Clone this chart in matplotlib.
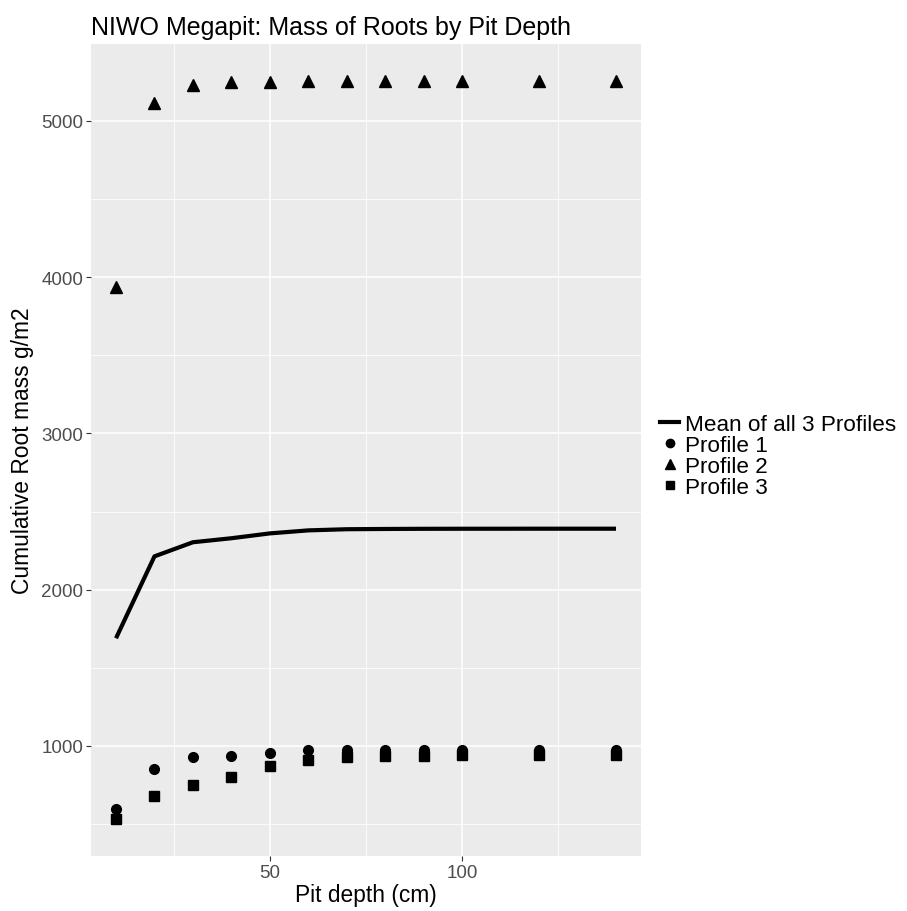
import numpy as np
import matplotlib
matplotlib.use("Agg")
import matplotlib.pyplot as plt
from matplotlib.lines import Line2D
from matplotlib.ticker import MultipleLocator

plt.rcParams["font.family"] = ["Liberation Sans", "DejaVu Sans"]

depth = [10, 20, 30, 40, 50, 60, 70, 80, 90, 100, 120, 140]
profile1 = [596, 851, 928, 938, 957, 972, 974, 975, 975, 975, 975, 975]
profile2 = [3940, 5112, 5230, 5248, 5252, 5254, 5255, 5255, 5256, 5256, 5256, 5256]
profile3 = [532, 677, 753, 802, 872, 913, 932, 936, 938, 939, 940, 940]
mean_all = np.mean([profile1, profile2, profile3], axis=0)

W, H = 907, 912
fig = plt.figure(figsize=(W / 100, H / 100), dpi=100)
ax = fig.add_axes([91 / W, (H - 857) / H, (641 - 91) / W, (857 - 45) / H])

ax.set_facecolor("#EBEBEB")
for s in ax.spines.values():
    s.set_visible(False)

ax.plot(depth, mean_all, color="black", lw=3, zorder=3, solid_capstyle="butt")
ax.plot(depth, profile1, "o", color="black", ms=7, zorder=4)
ax.plot(depth, profile2, "^", color="black", ms=8.5, zorder=4)
ax.plot(depth, profile3, "s", color="black", ms=6.5, zorder=4)

xr = max(depth) - min(depth)
ax.set_xlim(min(depth) - 0.05 * xr, max(depth) + 0.05 * xr)
ymin = min(min(profile1), min(profile2), min(profile3))
ymax = max(max(profile1), max(profile2), max(profile3))
yr = ymax - ymin
ax.set_ylim(ymin - 0.05 * yr, ymax + 0.05 * yr)

ax.xaxis.set_major_locator(MultipleLocator(50))
ax.xaxis.set_minor_locator(MultipleLocator(25))
ax.yaxis.set_major_locator(MultipleLocator(1000))
ax.yaxis.set_minor_locator(MultipleLocator(500))
ax.grid(which="major", color="white", lw=1.1)
ax.grid(which="minor", color="white", lw=0.55)
ax.set_axisbelow(True)
ax.tick_params(which="major", length=3.5, width=0.8, color="#333333",
               labelcolor="#4D4D4D", labelsize=13.5, pad=2)
ax.tick_params(which="minor", length=0)

ax.set_xlabel("Pit depth (cm)", fontsize=16.4, labelpad=2)
ax.set_ylabel("Cumulative Root mass g/m2", fontsize=16.4, labelpad=5)
ax.set_title("NIWO Megapit: Mass of Roots by Pit Depth", fontsize=18,
             loc="left", pad=7)

handles = [
    Line2D([], [], color="black", lw=3),
    Line2D([], [], marker="o", ls="", color="black", ms=6),
    Line2D([], [], marker="^", ls="", color="black", ms=6.5),
    Line2D([], [], marker="s", ls="", color="black", ms=5.5),
]
labels = ["Mean of all 3 Profiles", "Profile 1", "Profile 2", "Profile 3"]
fig.legend(handles, labels, loc="center left", bbox_to_anchor=(651 / W, 1 - 457 / H),
           frameon=False, fontsize=16.2, handlelength=0.85, handletextpad=0.25,
           labelspacing=0.0, borderaxespad=0)

fig.savefig("out.png", dpi=100, facecolor="white")
